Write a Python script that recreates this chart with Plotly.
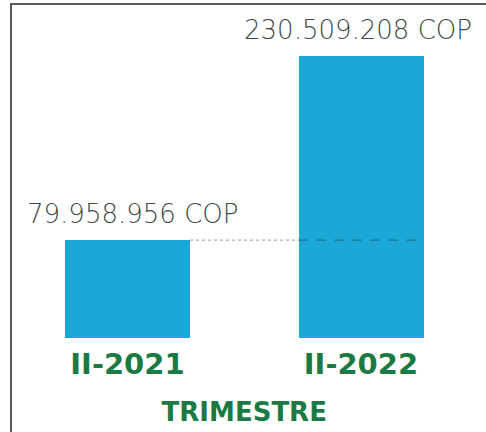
import plotly.graph_objects as go

categories = ["II-2021", "II-2022"]
values = [79958956, 230509208]
value_labels = ["79.958.956 COP", "230.509.208 COP"]
axis_title = "TRIMESTRE"

W, H = 486, 432
bar_color = "#1BA8D6"
green = "#1B7A43"
text_gray = "#3E4A47"
bar_width = 0.535

fig = go.Figure()
fig.add_trace(go.Bar(
    x=[0, 1], y=values, width=bar_width,
    marker=dict(color=bar_color, line=dict(width=0)),
    hoverinfo="skip", showlegend=False,
))

label_xshift = [5, -3]
for i, (v, lab) in enumerate(zip(values, value_labels)):
    fig.add_annotation(
        x=i, y=v, xref="x", yref="y", text=lab, showarrow=False,
        yanchor="bottom", yshift=9, xshift=label_xshift[i],
        font=dict(family="DejaVu Sans", size=26, color=text_gray, weight=200),
    )

# dotted reference line at first bar's height
fig.add_shape(type="line", xref="x", yref="y",
              x0=0 + bar_width / 2, x1=1 - bar_width / 2, y0=values[0], y1=values[0],
              line=dict(color="#AAAAAA", width=1.2, dash="dot"))
fig.add_shape(type="line", xref="x", yref="y",
              x0=1 - bar_width / 2, x1=1 + bar_width / 2, y0=values[0], y1=values[0],
              line=dict(color="#1F6F8E", width=1.2, dash="dash"), layer="above")

# frame lines (scanned page border)
fig.add_shape(type="line", xref="paper", yref="paper",
              x0=11 / W, x1=11 / W, y0=0, y1=1 - 4 / H,
              line=dict(color="#5A5A5A", width=2))
fig.add_shape(type="rect", xref="paper", yref="paper",
              x0=10 / W, x1=1, y0=1 - 5 / H, y1=1 - 3 / H,
              line=dict(width=0), fillcolor="#5A5A5A")

fig.update_layout(
    width=W, height=H,
    margin=dict(l=0, r=0, t=0, b=0),
    paper_bgcolor="white", plot_bgcolor="white",
    bargap=0,
    xaxis=dict(
        domain=[10.75 / W, 477.75 / W], range=[-0.5, 1.5],
        tickmode="array", tickvals=[0, 1], ticktext=categories,
        showgrid=False, zeroline=False, showline=False, ticks="",
        ticklabelstandoff=6,
        tickfont=dict(family="DejaVu Sans", size=29, color=green, weight="bold"),
        title=dict(text=axis_title, standoff=22,
                   font=dict(family="DejaVu Sans", size=26, color=green, weight="bold")),
    ),
    yaxis=dict(
        domain=[(H - 338) / H, (H - 56) / H], range=[0, values[1]],
        showgrid=False, zeroline=False, showline=False, showticklabels=False, ticks="",
    ),
)

fig.write_html("out.html", config={"displayModeBar": False},
               post_script="document.body.style.margin='0';")
